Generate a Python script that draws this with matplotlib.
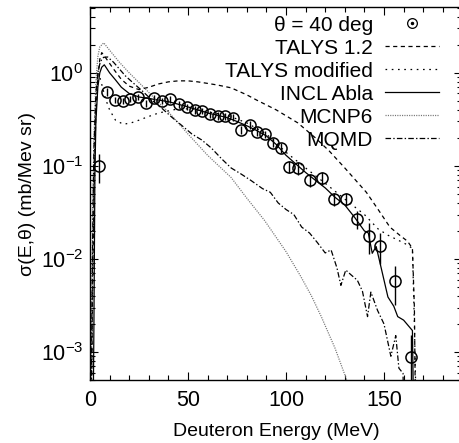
import matplotlib
matplotlib.use("Agg")
import matplotlib.pyplot as plt
from matplotlib.lines import Line2D
from matplotlib.legend_handler import HandlerTuple
from matplotlib.ticker import LogLocator, MultipleLocator, LogFormatterSciNotation

plt.rcParams['font.family'] = ['Liberation Sans', 'DejaVu Sans']
plt.rcParams['mathtext.fontset'] = 'custom'
plt.rcParams['mathtext.rm'] = 'Liberation Sans'
plt.rcParams['mathtext.it'] = 'Liberation Sans:italic'
plt.rcParams['mathtext.default'] = 'regular'
plt.rcParams['lines.scale_dashes'] = False

# ---------------- data ----------------
E_exp = [4.6, 8.5, 12.6, 16.6, 20.3, 24.3, 28.4, 32.6, 36.7, 40.9, 45.2, 49.5, 53.5, 57.3,
         61.4, 65.3, 69.1, 72.9, 77.0, 81.5, 85.3, 89.2, 93.5, 97.2, 101.5, 106.3, 112.2,
         118.2, 124.5, 130.5, 136.4, 142.4, 147.9, 155.6, 163.8]
y_exp = [0.10, 0.62, 0.51, 0.50, 0.52, 0.55, 0.47, 0.53, 0.50, 0.52, 0.46, 0.43, 0.40, 0.39,
         0.36, 0.345, 0.34, 0.33, 0.245, 0.276, 0.234, 0.219, 0.178, 0.157, 0.098, 0.094, 0.071,
         0.074, 0.044, 0.044, 0.027, 0.0178, 0.0139, 0.0058, 0.00088]
err_exp = [0.035, 0.06, 0.04, 0.04, 0.04, 0.045, 0.04, 0.045, 0.04, 0.045, 0.04, 0.035, 0.035, 0.03,
           0.03, 0.03, 0.03, 0.03, 0.025, 0.025, 0.025, 0.02, 0.02, 0.018, 0.015, 0.015, 0.011,
           0.011, 0.007, 0.007, 0.006, 0.0066, 0.005, 0.0026, 0.00064]

E_talys = [0.5, 1, 1.5, 2, 2.5, 3, 4, 5, 6, 8, 12, 16, 20, 25, 30, 35, 40, 45, 50, 55, 60, 65,
           72, 80, 85, 95, 106, 115, 122, 130, 141, 147, 153, 158, 162, 164.5, 165.5, 166]
y_talys = [1e-4, 0.001, 0.01, 0.05, 0.15, 0.35, 0.9, 1.4, 1.65, 1.45, 1.1, 0.85, 0.72, 0.66,
           0.70, 0.76, 0.80, 0.82, 0.82, 0.80, 0.77, 0.74, 0.69, 0.58, 0.51, 0.40, 0.29, 0.20,
           0.145, 0.095, 0.052, 0.034, 0.022, 0.018, 0.0155, 0.013, 0.003, 0.0003]

E_tmod = [0.5, 1, 1.5, 2, 2.5, 3, 4, 5, 6, 8, 10, 13, 17, 21, 25, 30, 35, 40, 45, 52, 60, 70,
          80, 90, 100, 110, 120, 130, 140, 147, 152, 157, 161, 164.5, 165.5, 166.5]
y_tmod = [1e-4, 0.001, 0.01, 0.06, 0.2, 0.45, 0.85, 0.9, 0.75, 0.52, 0.4, 0.31, 0.28, 0.29,
          0.31, 0.34, 0.37, 0.39, 0.41, 0.41, 0.38, 0.35, 0.29, 0.22, 0.14, 0.095, 0.065, 0.044,
          0.03, 0.021, 0.018, 0.016, 0.0145, 0.013, 0.002, 0.0002]

E_incl = [1.5, 2, 2.5, 3, 4, 5, 6, 7.3, 10, 13, 16, 20, 25, 30, 35, 40, 45, 50, 55, 60, 65, 70,
          75, 80, 85, 90, 95, 100, 105, 110, 115, 120, 125, 130, 135, 140, 142, 144, 146, 148,
          152, 155, 157, 160, 164.5, 165, 165.5]
y_incl = [1e-4, 0.002, 0.08, 0.3, 0.7, 1.0, 1.15, 1.22, 1.0, 0.84, 0.7, 0.6, 0.55, 0.53, 0.51,
          0.49, 0.46, 0.43, 0.40, 0.37, 0.35, 0.33, 0.30, 0.27, 0.24, 0.21, 0.17, 0.13, 0.105,
          0.085, 0.07, 0.058, 0.046, 0.038, 0.028, 0.020, 0.019, 0.0115, 0.0136, 0.009, 0.0039,
          0.0031, 0.0024, 0.0022, 0.0017, 0.0003, 0.0001]

E_mcnp = [0.5, 1, 1.5, 2, 3, 4, 5, 7, 10, 15, 20, 28, 35, 40, 50, 60, 72, 80, 89, 100, 107.5,
          113, 118, 125, 131, 135]
y_mcnp = [1e-4, 0.005, 0.05, 0.2, 0.8, 1.5, 1.9, 2.1, 1.75, 1.3, 1.0, 0.68, 0.48, 0.38, 0.22,
          0.13, 0.075, 0.045, 0.026, 0.012, 0.0065, 0.004, 0.0024, 0.0011, 5e-4, 3e-4]

E_mqmd = [0.5, 1, 1.5, 2, 3, 4, 5, 6, 7, 9, 12, 15, 18, 22, 27, 32, 37, 42, 47, 52, 57, 62, 67,
          72, 77, 82, 88, 92, 96, 100, 104, 108, 112, 116, 120, 123, 126, 128, 130.5, 133, 136.4,
          139, 141.6, 143.3, 146.7, 150, 153.5, 156, 157.6, 159.7, 160.5]
y_mqmd = [1e-4, 0.003, 0.03, 0.15, 0.6, 1.0, 1.25, 1.4, 1.47, 1.48, 1.3, 1.1, 0.93, 0.78, 0.63,
          0.5, 0.41, 0.33, 0.27, 0.22, 0.19, 0.155, 0.12, 0.095, 0.082, 0.07, 0.057, 0.052, 0.04,
          0.034, 0.030, 0.022, 0.019, 0.015, 0.0116, 0.0125, 0.008, 0.0052, 0.0076, 0.0068,
          0.0059, 0.0045, 0.0024, 0.0044, 0.0028, 0.002, 9e-4, 0.0015, 6.7e-4, 5.9e-4, 1e-4]

labels = ["θ = 40 deg", "TALYS 1.2", "TALYS modified", "INCL Abla", "MCNP6", "MQMD"]

# ---------------- plot ----------------
fig = plt.figure(figsize=(4.6, 4.43), dpi=100)
ax = fig.add_axes([90 / 460, 1 - 380 / 443, 372.4 / 460, 373 / 443])

l1, = ax.plot(E_talys, y_talys, color='k', lw=0.9, dashes=(3, 2.5))
l2, = ax.plot(E_tmod, y_tmod, color='k', lw=0.9, dashes=(1.2, 3.3))
l3, = ax.plot(E_incl, y_incl, color='k', lw=0.9)
l4, = ax.plot(E_mcnp, y_mcnp, color='0.45', lw=0.9, dashes=(0.8, 0.9))
l5, = ax.plot(E_mqmd, y_mqmd, color='k', lw=0.9, dashes=(4, 1.6, 1, 1.6))

ax.errorbar(E_exp, y_exp, yerr=err_exp, fmt='o', ms=8, mfc='none', mec='k', mew=1.1,
            ecolor='k', elinewidth=1.0, capsize=0, zorder=5)

ax.set_yscale('log')
ax.set_xlim(0, 190)
ax.set_ylim(5e-4, 5.1)

ax.xaxis.set_major_locator(MultipleLocator(50))
ax.xaxis.set_minor_locator(MultipleLocator(10))
ax.yaxis.set_major_locator(LogLocator(base=10, numticks=20))
ax.yaxis.set_minor_locator(LogLocator(base=10, subs=range(2, 10), numticks=20))
ax.yaxis.set_major_formatter(LogFormatterSciNotation())

ax.tick_params(which='both', direction='in', top=True, right=True, width=0.8, labelsize=15.5)
ax.tick_params(which='major', length=5.5)
ax.tick_params(which='minor', length=3.5)
ax.tick_params(axis='x', pad=7)
ax.tick_params(axis='y', pad=5)
for s in ax.spines.values():
    s.set_linewidth(1.0)

ax.set_xlabel("Deuteron Energy (MeV)", fontsize=14, labelpad=9)
ax.set_ylabel("σ(E,θ) (mb/Mev sr)", fontsize=14, labelpad=3)

circ = Line2D([], [], marker='o', ms=7, mfc='none', mec='k', mew=0.9, ls='none')
dot = Line2D([], [], marker='o', ms=1.5, mfc='k', mec='k', ls='none')
handles = [(circ, dot), l1, l2, l3, l4, l5]
leg = ax.legend(handles, labels, loc='upper right', markerfirst=False, frameon=False,
                fontsize=15, handlelength=2.6, handletextpad=0.6, labelspacing=0.19,
                borderaxespad=0.2, bbox_to_anchor=(0.972, 1.01),
                handler_map={tuple: HandlerTuple(ndivide=1)})

fig.savefig("out.png", dpi=100)
